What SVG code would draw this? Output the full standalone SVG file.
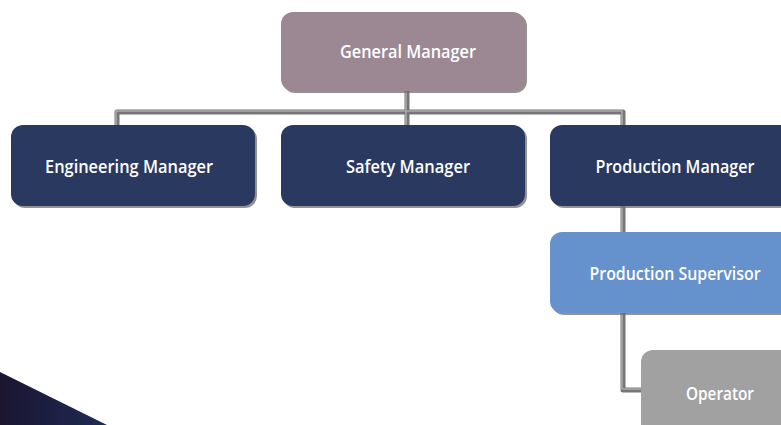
<svg xmlns="http://www.w3.org/2000/svg" width="781" height="425" viewBox="0 0 781 425">
  <defs>
    <linearGradient id="cornerFill" x1="0" y1="0" x2="1" y2="0">
      <stop offset="0" stop-color="#1b1530"/>
      <stop offset="1" stop-color="#1f2b55"/>
    </linearGradient>
  </defs>
  <style>
    .shadow { fill: #6f6f6f; opacity: 0.75; }
    .gm { fill: #9c8892; }
    .mgr { fill: #2a3960; }
    .sup { fill: #6591cc; }
    .op { fill: #a1a1a1; }
    .label { fill: #ffffff; font-family: "Open Sans", "Liberation Sans", sans-serif; font-weight: 600; font-size: 18px; text-anchor: middle; }
    .wire-outer { fill: none; stroke: #767676; stroke-width: 5; stroke-linejoin: round; }
    .wire-inner { fill: none; stroke: #ababab; stroke-width: 1.6; stroke-linejoin: round; }
  </style>

  <rect width="781" height="425" fill="#ffffff"/>

  <!-- dark corner wedge -->
  <polygon points="0,372 107,425 0,425" fill="url(#cornerFill)"/>

  <!-- connectors -->
  <g id="connectors">
    <path class="wire-outer" d="M407,91 V126 M117,126 V112 H623 V126 M407,112 V126 M623,206 V233 M623,313 V390 H642"/>
    <path class="wire-inner" d="M406,91 V126 M116,126 V111 H622 V126 M406,112 V126 M622,206 V233 M622,313 V389 H642"/>
  </g>

  <g id="general-manager">
    <rect class="shadow" x="283" y="14" width="244" height="79" rx="12"/>
    <rect class="gm" x="281" y="12" width="244" height="79" rx="12"/>
    <text class="label" x="408" y="58" textLength="136" lengthAdjust="spacingAndGlyphs">General Manager</text>
  </g>

  <g id="engineering-manager">
    <rect class="shadow" x="13" y="127" width="244" height="81" rx="12"/>
    <rect class="mgr" x="11" y="125" width="244" height="81" rx="12"/>
    <text class="label" x="129" y="173" textLength="168" lengthAdjust="spacingAndGlyphs">Engineering Manager</text>
  </g>

  <g id="safety-manager">
    <rect class="shadow" x="283" y="127" width="244" height="81" rx="12"/>
    <rect class="mgr" x="281" y="125" width="244" height="81" rx="12"/>
    <text class="label" x="408" y="173" textLength="124" lengthAdjust="spacingAndGlyphs">Safety Manager</text>
  </g>

  <g id="production-manager">
    <rect class="shadow" x="552" y="127" width="244" height="81" rx="12"/>
    <rect class="mgr" x="550" y="125" width="244" height="81" rx="12"/>
    <text class="label" x="675" y="173" textLength="159" lengthAdjust="spacingAndGlyphs">Production Manager</text>
  </g>

  <g id="production-supervisor">
    <rect class="shadow" x="552" y="234" width="244" height="81" rx="12"/>
    <rect class="sup" x="550" y="232" width="244" height="81" rx="12"/>
    <text class="label" x="675" y="280" textLength="171" lengthAdjust="spacingAndGlyphs">Production Supervisor</text>
  </g>

  <g id="operator">
    <rect class="op" x="641" y="350" width="244" height="90" rx="12"/>
    <text class="label" x="720" y="400" textLength="68" lengthAdjust="spacingAndGlyphs">Operator</text>
  </g>
</svg>
